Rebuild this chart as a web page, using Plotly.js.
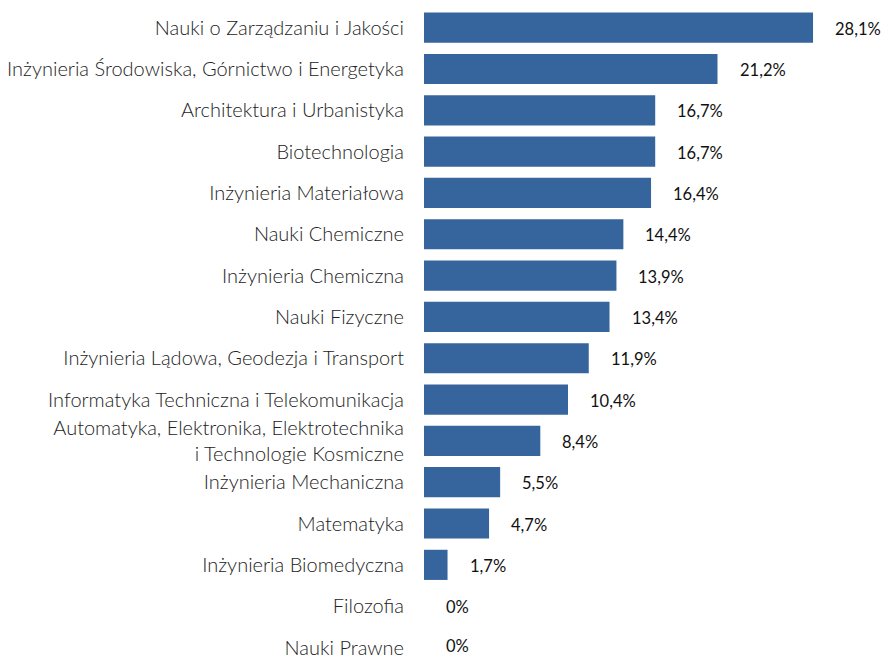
<!DOCTYPE html>
<html><head><meta charset="utf-8">
<script src="https://cdn.plot.ly/plotly-3.0.1.min.js"></script>
<style>body{margin:0;background:#fff}#c{width:886px;height:657px}</style>
</head><body><div id="c"></div>
<script>
var categories = [
  "Nauki o Zarządzaniu i Jakości",
  "Inżynieria Środowiska, Górnictwo i Energetyka",
  "Architektura i Urbanistyka",
  "Biotechnologia",
  "Inżynieria Materiałowa",
  "Nauki Chemiczne",
  "Inżynieria Chemiczna",
  "Nauki Fizyczne",
  "Inżynieria Lądowa, Geodezja i Transport",
  "Informatyka Techniczna i Telekomunikacja",
  "Automatyka, Elektronika, Elektrotechnika<br>i Technologie Kosmiczne",
  "Inżynieria Mechaniczna",
  "Matematyka",
  "Inżynieria Biomedyczna",
  "Filozofia",
  "Nauki Prawne"
];
var values = [28.1, 21.2, 16.7, 16.7, 16.4, 14.4, 13.9, 13.4, 11.9, 10.4, 8.4, 5.5, 4.7, 1.7, 0, 0];
var valueLabels = ["28,1%","21,2%","16,7%","16,7%","16,4%","14,4%","13,9%","13,4%","11,9%","10,4%","8,4%","5,5%","4,7%","1,7%","0%","0%"];

var FONT = "Lato, 'Source Sans Pro', sans-serif";
var annotations = categories.map(function(c, i){
  return {x: values[i], y: c, xref: 'x', yref: 'y', text: valueLabels[i], showarrow: false,
          xanchor: 'left', xshift: 20, yshift: (i === categories.length - 1 ? 2 : -1),
          font: {family: FONT, size: 16.5, color: '#111'}};
});

Plotly.newPlot('c', [{
  type: 'bar', orientation: 'h', x: values, y: categories,
  marker: {color: '#35659c'}, hoverinfo: 'none'
}], {
  width: 886, height: 657,
  margin: {l: 424, r: 0, t: 7, b: 0},
  bargap: 0.27,
  paper_bgcolor: '#fff', plot_bgcolor: '#fff',
  showlegend: false,
  xaxis: {range: [0, 33.37], visible: false, fixedrange: true},
  yaxis: {type: 'category', range: [15.23, -0.5], showgrid: false, zeroline: false, showline: false,
          ticks: 'outside', ticklen: 15, tickcolor: 'rgba(0,0,0,0)',
          tickfont: {family: FONT, size: 20, weight: 300, color: '#222'}, fixedrange: true},
  annotations: annotations,
  font: {family: FONT}
}, {displayModeBar: false, staticPlot: true});
</script></body></html>
